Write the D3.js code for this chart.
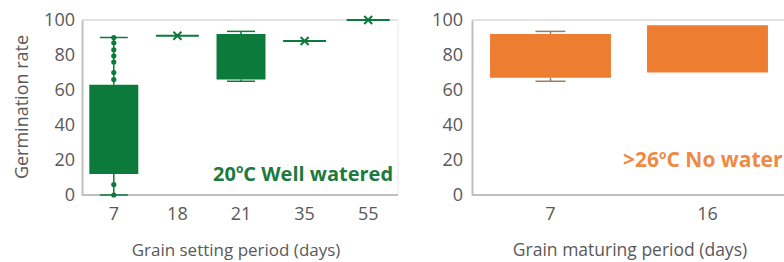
<!DOCTYPE html>
<html>
<head>
<meta charset="utf-8">
<script src="https://cdn.jsdelivr.net/npm/d3@7"></script>
<style>
  body { margin: 0; background: #fff; }
  text { font-family: "Open Sans", sans-serif; }
</style>
</head>
<body>
<svg id="chart" width="784" height="262"></svg>
<script>
// left panel: 20C well watered
var leftCats = ["7", "18", "21", "35", "55"];
var leftQ1   = [12, 91, 66, 88, 100];
var leftQ3   = [63, 91, 92, 88, 100];
var leftLow  = [0, 91, 65, 88, 100];
var leftHigh = [90, 91, 93.5, 88, 100];
var leftMean = [null, 91, null, 88, 100];
var leftPoints = [0, 6, 66, 70, 76, 79.5, 83, 87, 90];   // dots on the 7-day whisker

// right panel: >26C no water
var rightCats = ["7", "16"];
var rightQ1   = [67, 70];
var rightQ3   = [92, 97];
var rightLow  = [65, null];
var rightHigh = [93.5, null];

var yTicks = [0, 20, 40, 60, 80, 100];

var svg = d3.select("#chart");
var plotTop = 20, plotBottom = 195;
var y = d3.scaleLinear().domain([0, 100]).range([plotBottom, plotTop]);

function drawPanel(opt) {
    var x = d3.scaleBand().domain(opt.cats).range([opt.left, opt.right])
        .paddingInner(0.23).paddingOuter(0.115);
    var g = svg.append("g");

    // frame
    g.append("line").attr("x1", opt.left).attr("x2", opt.frameRight)
        .attr("y1", plotTop).attr("y2", plotTop).attr("stroke", "#d9d9d9").attr("stroke-width", 1.5);
    if (opt.showRight) {
        g.append("line").attr("x1", opt.frameRight).attr("x2", opt.frameRight)
            .attr("y1", plotTop).attr("y2", plotBottom).attr("stroke", "#e8e8e8").attr("stroke-width", 1);
    }

    var yAxis = g.append("g")
        .attr("transform", "translate(" + opt.left + ",0)")
        .call(d3.axisLeft(y).tickValues(yTicks).tickSize(0).tickPadding(opt.tickPad));
    yAxis.select(".domain").attr("stroke", "#bfbfbf").attr("stroke-width", 2);
    yAxis.selectAll("text").attr("fill", "#595959").style("font-size", "18px")
        .style("font-family", "Open Sans, sans-serif");

    var xAxis = g.append("g")
        .attr("transform", "translate(0," + plotBottom + ")")
        .call(d3.axisBottom(x).tickSize(0).tickPadding(12));
    xAxis.select(".domain").attr("d", "M" + opt.left + ",0H" + opt.frameRight)
        .attr("stroke", "#bfbfbf").attr("stroke-width", 2);
    xAxis.selectAll("text").attr("fill", "#595959").style("font-size", "18px")
        .style("font-family", "Open Sans, sans-serif");

    // condition label
    var lbl = g.append("text").attr("x", opt.labelX).attr("y", opt.labelY)
        .attr("fill", opt.labelColor).style("font-size", opt.labelSize + "px").style("font-weight", "bold");
    lbl.append("tspan").text(opt.labelPre);
    lbl.append("tspan").attr("dy", -8).style("font-size", "12px").text("o");
    lbl.append("tspan").attr("dy", 8).text(opt.labelPost);

    var cx = function (i) { return x(opt.cats[i]) + x.bandwidth() / 2; };
    var capW = opt.capW;

    opt.cats.forEach(function (c, i) {
        var lo = opt.low[i], hi = opt.high[i];
        if (lo != null && hi != null && opt.q1[i] !== opt.q3[i]) {
            // whiskers
            g.append("line").attr("x1", cx(i)).attr("x2", cx(i))
                .attr("y1", y(hi)).attr("y2", y(opt.q3[i]))
                .attr("stroke", opt.whisker).attr("stroke-width", 1.5);
            g.append("line").attr("x1", cx(i)).attr("x2", cx(i))
                .attr("y1", y(opt.q1[i])).attr("y2", y(lo))
                .attr("stroke", opt.whisker).attr("stroke-width", 1.5);
            [lo, hi].forEach(function (v) {
                g.append("line").attr("x1", cx(i) - capW / 2).attr("x2", cx(i) + capW / 2)
                    .attr("y1", y(v)).attr("y2", y(v))
                    .attr("stroke", opt.whisker).attr("stroke-width", 1.5);
            });
        }
        if (opt.q1[i] === opt.q3[i]) {
            g.append("line").attr("x1", x(c) + 3).attr("x2", x(c) + x.bandwidth() - 3)
                .attr("y1", y(opt.q1[i])).attr("y2", y(opt.q1[i]))
                .attr("stroke", opt.color).attr("stroke-width", 2);
        } else {
            g.append("rect").attr("x", x(c)).attr("y", y(opt.q3[i]))
                .attr("width", x.bandwidth()).attr("height", y(opt.q1[i]) - y(opt.q3[i]))
                .attr("fill", opt.color);
        }
        if (opt.mean && opt.mean[i] != null) {
            var my = y(opt.mean[i]), s = 4;
            g.append("path")
                .attr("d", "M" + (cx(i) - s) + "," + (my - s) + "L" + (cx(i) + s) + "," + (my + s) +
                           "M" + (cx(i) - s) + "," + (my + s) + "L" + (cx(i) + s) + "," + (my - s))
                .attr("stroke", opt.color).attr("stroke-width", 2);
        }
    });

    if (opt.points) {
        g.selectAll(".pt").data(opt.points).enter().append("circle")
            .attr("cx", cx(0)).attr("cy", function (d) { return y(d); })
            .attr("r", 2.6).attr("fill", opt.color);
    }

    // axis titles
    g.append("text").attr("x", opt.titleX).attr("y", 256).attr("text-anchor", "middle")
        .attr("fill", "#595959").style("font-size", opt.titleSize + "px").text(opt.title);
}

drawPanel({
    cats: leftCats, q1: leftQ1, q3: leftQ3, low: leftLow, high: leftHigh, mean: leftMean,
    points: leftPoints, left: 82, right: 400, frameRight: 398, showRight: true,
    color: "#0b7a3b", whisker: "#0b7a3b", capW: 28, tickPad: 7,
    labelX: 213, labelY: 181, labelColor: "#1d7a3e", labelSize: 20,
    labelPre: "20", labelPost: "C Well watered",
    title: "Grain setting period (days)", titleX: 236, titleSize: 17
});

drawPanel({
    cats: rightCats, q1: rightQ1, q3: rightQ3, low: rightLow, high: rightHigh, mean: null,
    points: null, left: 472, right: 786, frameRight: 784, showRight: false,
    color: "#ed7d31", whisker: "#9a7c68", capW: 30, tickPad: 9,
    labelX: 623, labelY: 167, labelColor: "#ef8a46", labelSize: 21,
    labelPre: ">26", labelPost: "C No water",
    title: "Grain maturing period (days)", titleX: 630, titleSize: 17.5
});

svg.append("text")
    .attr("transform", "translate(28,107) rotate(-90)")
    .attr("text-anchor", "middle").attr("fill", "#595959")
    .style("font-size", "18px").text("Germination rate");
</script>
</body>
</html>
